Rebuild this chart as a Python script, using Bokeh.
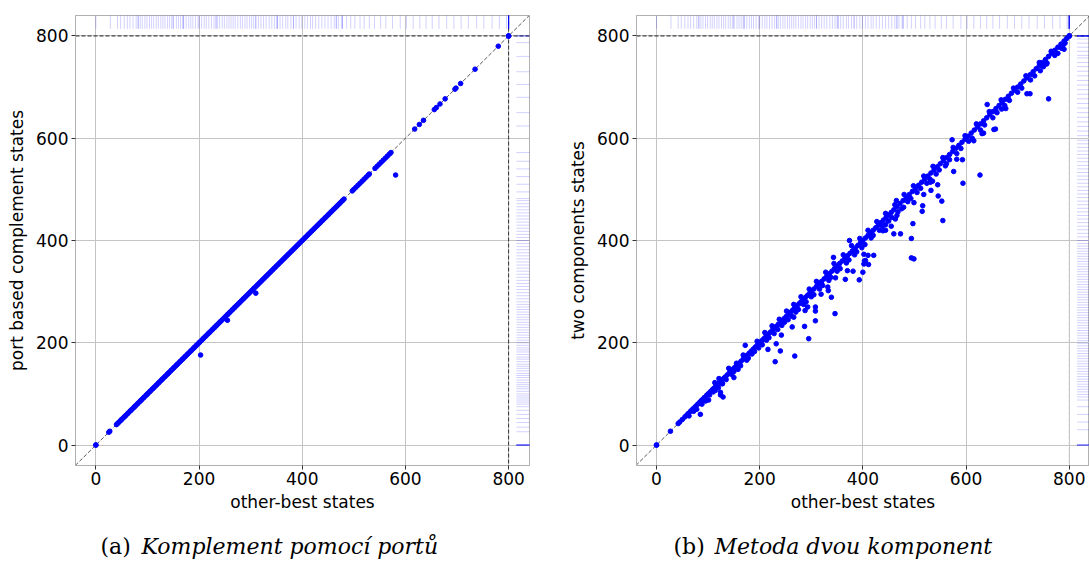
from bokeh.plotting import figure
from bokeh.layouts import row, column
from bokeh.models import FixedTicker, Label, Span, Slope
from bokeh.embed import file_html
from bokeh.resources import INLINE

# ---------------- data ----------------
ticks = [0, 200, 400, 600, 800]
timeout = 800

# (a) port based complement vs other-best: points where both are equal
left_same = [0, 0, 25, 27, 40, 42, 44, 47, 49, 51, 54, 56, 58, 61, 63, 66, 68, 70, 73, 75, 77,
             80, 82, 85, 87, 89, 92, 94, 97, 99, 101, 104, 106, 109, 111, 113, 116, 118, 121,
             123, 126, 128, 130, 133, 135, 138, 140, 142, 145, 147, 150, 152, 155, 157, 159,
             162, 164, 167, 169, 172, 174, 177, 179, 182, 184, 186, 189, 191, 194, 196, 199,
             201, 204, 207, 209, 212, 215, 218, 220, 223, 226, 229, 231, 234, 237, 240, 242,
             245, 248, 251, 254, 256, 259, 262, 265, 268, 270, 273, 276, 279, 282, 285, 287,
             290, 293, 296, 299, 302, 305, 307, 310, 313, 316, 319, 322, 325, 328, 331, 334,
             337, 340, 343, 346, 349, 352, 355, 358, 361, 364, 367, 370, 373, 376, 379, 382,
             385, 388, 391, 394, 397, 400, 403, 406, 409, 412, 415, 418, 421, 424, 427, 430,
             433, 436, 439, 442, 445, 448, 451, 454, 457, 460, 463, 466, 469, 472, 475, 478,
             481, 497, 500, 504, 508, 512, 516, 520, 524, 528, 530, 541, 545, 549, 553, 557,
             561, 565, 569, 572, 618, 627, 635, 656, 660, 667, 677, 696, 698, 707,
             735, 780, 800, 800, 800]
left_diff_x = [203, 255, 310, 581]
left_diff_y = [176, 244, 297, 528]

# (b) two components vs other-best
right_same = [0, 0, 27, 42, 45, 50, 55, 59, 62, 66, 69, 72, 76, 80, 84, 87, 90, 93, 97, 100,
              104, 108, 111, 115, 118, 122, 126, 130, 133, 137, 141, 145, 149, 152, 156, 160,
              164, 168, 172, 176, 180, 184, 188, 192, 196, 200, 204, 208, 212, 216, 220, 224,
              228, 232, 236, 240, 244, 248, 252, 256, 260, 264, 268, 272, 276, 280, 284, 288,
              292, 296, 300, 305, 310, 315, 320, 325, 330, 335, 340, 345, 350, 355, 360, 365,
              370, 375, 380, 385, 390, 395, 400, 405, 410, 415, 420, 425, 430, 435, 440, 445,
              450, 455, 460, 466, 472, 478, 484, 490, 496, 502, 508, 514, 520, 526, 532, 538,
              544, 550, 556, 562, 568, 574, 580, 586, 592, 598, 604, 610, 616, 622, 628, 634,
              640, 646, 652, 658, 664, 670, 676, 682, 688, 694, 700, 706, 712, 718, 724, 730,
              736, 742, 748, 754, 760, 766, 772, 778, 784, 790, 795, 800, 800, 800]
right_off_x = [63, 72, 78, 88, 95, 103, 110, 113, 120, 128, 135, 140, 146, 150, 155, 158, 163,
               168, 175, 178, 185, 190, 195, 198, 205, 210, 213, 218, 224, 228, 235, 238, 243,
               248, 252, 255, 262, 266, 270, 275, 280, 285, 290, 296, 300, 305, 310, 316, 322,
               328, 334, 338, 344, 350, 356, 362, 368, 373, 378, 384, 388, 394, 398, 404, 410,
               416, 420, 427, 432, 438, 444, 450, 456, 462, 468, 475, 480, 487, 493, 498, 505,
               512, 518, 524, 530, 536, 542, 548, 555, 562, 568, 575, 582, 590, 598, 605, 612,
               620, 628, 636, 645, 652, 660, 668, 675, 684, 692, 700, 708, 716, 725, 733, 742,
               750, 756, 765, 772, 778, 785, 788, 792,
               85, 101, 114, 124, 124, 129, 127, 150, 121, 172, 216, 230, 232, 240, 242, 263,
               266, 268, 287, 288, 293, 295, 308, 308, 308, 319, 333, 332, 339, 343, 346, 347,
               366, 370, 374, 381, 393, 400, 402, 402, 403, 405, 410, 411, 421, 439, 444, 444,
               455, 460, 463, 466, 473, 479, 465, 494, 499, 494, 497, 499, 515, 516, 518, 531,
               532, 535, 545, 546, 553, 555, 560, 573, 576, 582, 593, 594, 615, 627, 631, 634,
               641, 654, 657, 669, 677, 718, 724, 744, 757, 760, 786, 790]
right_off_y = [57, 66, 70, 80, 86, 98, 104, 122, 112, 120, 128, 150, 138, 144, 160, 148, 155,
               176, 166, 170, 178, 183, 203, 190, 196, 220, 205, 210, 233, 218, 226, 246, 234,
               240, 262, 245, 252, 275, 260, 265, 290, 275, 280, 305, 290, 294, 320, 305, 312,
               338, 322, 328, 355, 340, 345, 372, 356, 362, 390, 372, 378, 404, 386, 392, 420,
               405, 410, 437, 420, 428, 453, 438, 445, 470, 456, 462, 490, 476, 482, 507, 494,
               502, 526, 512, 520, 545, 530, 538, 562, 550, 558, 582, 570, 580, 605, 594, 600,
               628, 616, 626, 652, 640, 650, 675, 664, 674, 698, 690, 698, 722, 714, 722, 748,
               740, 745, 770, 762, 766, 776, 782, 786,
               60, 88, 107, 98, 103, 94, 120, 132, 130, 195, 187, 163, 198, 184, 215, 231,
               250, 174, 232, 263, 270, 208, 243, 262, 270, 295, 302, 309, 289, 367, 257, 327,
               324, 341, 400, 340, 323, 338, 354, 373, 360, 361, 371, 353, 371, 419, 420, 431,
               428, 413, 442, 449, 413, 465, 478, 366, 364, 404, 433, 474, 457, 468, 490, 514,
               498, 516, 509, 487, 477, 439, 546, 597, 535, 559, 558, 512, 595, 528, 609, 610,
               666, 617, 618, 657, 658, 687, 687, 732, 747, 677, 777, 774]

# marginal rugs (values whose counterpart ran out)
rug_top_x = [0, 28, 42, 48, 55, 61, 66, 72, 78, 82, 82, 86, 90, 95, 99, 104, 108, 112, 117, 121,
             126, 130, 134, 139, 143, 147, 150, 150, 156, 160, 164, 168, 170, 170, 175, 180,
             184, 188, 193, 198, 200, 205, 210, 214, 219, 224, 229, 233, 233, 236, 240, 245,
             249, 254, 258, 262, 266, 270, 275, 280, 284, 289, 293, 298, 302, 306, 310, 310,
             315, 320, 325, 330, 336, 341, 346, 350, 352, 352, 357, 362, 368, 372, 378, 383,
             383, 388, 394, 399, 405, 410, 416, 420, 426, 432, 438, 444, 450, 456, 462, 466,
             466, 470, 476, 478, 478, 486, 494, 502, 512, 520, 530, 540, 552, 562, 575, 590,
             602, 615, 628, 640, 652, 665, 680, 694, 708, 722, 738, 752, 768, 782, 796,
             800, 800, 800, 800, 800, 800, 800, 800, 800, 800, 800, 800, 800, 800]
rug_right_a = [0, 0, 0, 0, 0, 0, 0, 0, 26, 35, 44, 52, 60, 68, 75, 80, 84, 88, 92, 96, 100,
               105, 110, 114, 118, 122, 127, 132, 136, 140, 145, 150, 154, 158, 163, 168, 172,
               177, 182, 186, 190, 195, 200, 205, 210, 215, 220, 225, 230, 235, 240, 245, 250,
               255, 260, 265, 270, 275, 280, 286, 292, 298, 304, 310, 316, 322, 328, 334, 340,
               346, 352, 358, 364, 370, 376, 382, 388, 394, 400, 406, 412, 418, 424, 430, 436,
               442, 448, 454, 460, 466, 472, 478, 482, 495, 510, 525, 540, 555, 572, 624, 650,
               680, 705, 730, 760, 787, 800, 800, 800]
rug_right_b = [800, 800, 800, 800, 800, 800, 800, 800, 800, 800, 800, 800, 794, 786, 778, 770,
               762, 757, 748, 740, 731, 722, 713, 704, 695, 686, 677, 668, 659, 650, 641, 632,
               623, 614, 605, 596, 589, 582, 575, 568, 561, 554, 547, 540, 533, 526, 519, 512,
               505, 498, 491, 484, 477, 470, 463, 456, 449, 442, 435, 428, 421, 414, 407, 400,
               394, 389, 384, 379, 374, 369, 364, 359, 354, 349, 344, 339, 334, 329, 324, 319,
               314, 309, 304, 299, 294, 289, 284, 279, 274, 269, 264, 259, 254, 249, 244, 239,
               234, 229, 224, 219, 214, 209, 204, 199, 194, 189, 184, 179, 174, 169, 164, 159,
               154, 149, 144, 139, 134, 129, 124, 119, 114, 109, 104, 99, 94, 88, 75, 60, 45,
               30, 0, 0, 0, 0, 0, 0]

x_label = "other-best states"
y_label_a = "port based complement states"
y_label_b = "two components states"
cap_a = ("(a)", "Komplement pomocí portů")
cap_b = ("(b)", "Metoda dvou komponent")

BLUE = "#0000ff"
FONT = "DejaVu Sans"
SERIF = "DejaVu Serif"
PANEL_H = 517
CAP_H = 45


def panel(width, border_l, border_r, xr, ylabel, same, dx, dy, rug_top, rug_right,
          vline_color):
    p = figure(width=width, height=PANEL_H, x_range=xr, y_range=(-40, 840),
               output_backend="svg", toolbar_location=None,
               min_border_left=border_l, min_border_right=border_r,
               min_border_top=15, min_border_bottom=PANEL_H - 15 - 450)
    p.background_fill_color = "white"
    p.border_fill_color = "white"
    p.outline_line_color = "#b0b0b0"
    p.outline_line_width = 1
    for ax in (p.xaxis[0], p.yaxis[0]):
        ax.ticker = FixedTicker(ticks=ticks)
        ax.minor_tick_line_color = None
        ax.major_tick_out = 4
        ax.major_tick_in = 0
        ax.major_tick_line_color = "#333333"
        ax.axis_line_color = "#b0b0b0"
        ax.major_label_text_font = FONT
        ax.major_label_text_font_size = "17px"
        ax.major_label_text_color = "black"
        ax.axis_label_text_font = FONT
        ax.axis_label_text_font_size = "17px"
        ax.axis_label_text_font_style = "normal"
        ax.axis_label_text_color = "black"
    p.xaxis.axis_label = x_label
    p.yaxis.axis_label = ylabel
    p.xaxis.major_label_standoff = 2
    p.xaxis.axis_label_standoff = 4
    p.yaxis.major_label_standoff = 3
    p.yaxis.axis_label_standoff = 6
    p.grid.grid_line_color = "#c4c4c4"
    p.grid.grid_line_width = 1

    # rugs
    p.segment(x0=rug_top, y0=814, x1=rug_top, y1=845, line_color=BLUE, line_alpha=0.18,
              line_width=1)
    p.segment(x0=815, y0=rug_right, x1=845, y1=rug_right, line_color=BLUE, line_alpha=0.18,
              line_width=1)

    p.add_layout(Slope(gradient=1, y_intercept=0, line_color="#444444", line_width=0.9,
                       line_dash="4 2", level="underlay"))
    p.add_layout(Span(location=timeout, dimension="width", line_color="#222222",
                      line_width=1, line_dash="4 2", level="underlay"))
    p.add_layout(Span(location=timeout, dimension="height", line_color=vline_color,
                      line_width=1, line_dash="4 2", level="underlay"))

    p.scatter(same, same, size=4.6, fill_color=BLUE, line_color=BLUE)
    p.scatter(dx, dy, size=4.6, fill_color=BLUE, line_color=BLUE)
    return p


def caption(width, cap, x0, x1):
    c = figure(width=width, height=CAP_H, x_range=(0, width), y_range=(0, CAP_H),
               output_backend="svg", toolbar_location=None,
               x_axis_type=None, y_axis_type=None,
               min_border_left=0, min_border_right=0, min_border_top=0, min_border_bottom=0)
    c.outline_line_color = None
    c.grid.visible = False
    c.background_fill_color = "white"
    c.border_fill_color = "white"
    c.add_layout(Label(x=x0, y=16, text=cap[0], text_font=SERIF,
                       text_font_size="22px", text_baseline="alphabetic",
                       text_align="left", text_color="black"))
    c.add_layout(Label(x=x1, y=16, text=cap[1], text_font=SERIF,
                       text_font_size="22px", text_font_style="italic",
                       text_baseline="alphabetic", text_align="left", text_color="black"))
    return c


pa = panel(548, 75, 19, (-39.5, 840.5), y_label_a, left_same, left_diff_x, left_diff_y,
           rug_top_x, rug_right_a, "#333333")
pb = panel(541, 88, 0, (-38.8, 839.3), y_label_b, right_same, right_off_x, right_off_y,
           rug_top_x, rug_right_b, "#c8c8c8")
ca = caption(548, cap_a, 100, 141)
cb = caption(541, cap_b, 125, 166)

layout = column(row(pa, pb), row(ca, cb))
open("out.html", "w").write(file_html(layout, INLINE))
